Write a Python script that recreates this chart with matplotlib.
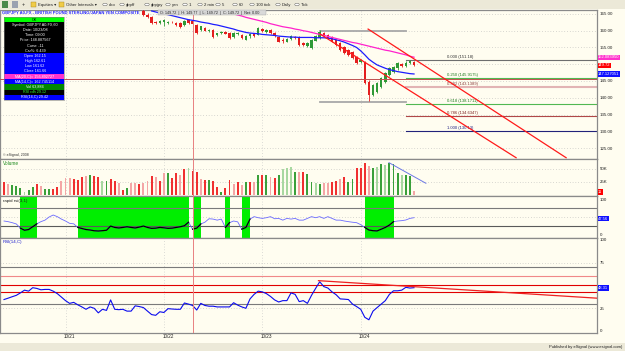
import matplotlib
matplotlib.use("Agg")
import matplotlib.pyplot as plt
from matplotlib.patches import Rectangle, Circle
import numpy as np

plt.rcParams['font.family'] = ['Liberation Sans', 'DejaVu Sans']

W, H = 625.0, 351.0
BG = '#fffdf0'
RED, GREEN = '#e41e1e', '#2e9a36'

# hourly GBPJPY bars, bar 0 = 10/20 09:00, bar 100 = 10/24 13:00
day_starts = [15, 39, 63, 87]
day_labels = ['10/21', '10/22', '10/23', '10/24']
cursor_bar, cursor_price = 46.1, 145.6

# candles before bar 34 sit above the visible price range
first_candle = 34
opens = [165.9, 164.8, 164.1, 162.5, 162.2, 162.5, 162.3, 162.7, 162.4, 162.3,
         161.8, 163.3, 162.8, 161.8, 160.3, 160.8, 159.8, 160.3, 158.8, 159.2,
         159.6, 159.3, 158.0, 159.0, 158.8, 157.3, 158.5, 158.9, 158.8, 160.6,
         159.6, 160.2, 159.2, 158.2, 157.3, 156.7, 157.4, 158.2, 158.2, 156.3,
         155.4, 154.9, 157.0, 157.8, 159.3, 158.6, 158.2, 157.1, 156.2, 155.2,
         154.3, 153.7, 152.3, 150.8, 150.8, 144.8, 140.8, 141.7, 143.3, 144.8,
         146.8, 147.8, 148.8, 150.1, 149.5, 150.4, 150.6]
highs = [166.4, 165.2, 164.4, 162.8, 163.2, 163.6, 163.0, 163.0, 162.7, 162.6,
         163.2, 163.6, 163.1, 162.1, 161.5, 161.1, 160.4, 160.6, 159.4, 159.9,
         159.9, 159.6, 159.7, 159.6, 159.1, 158.8, 159.3, 159.2, 161.2, 160.9,
         160.6, 160.4, 159.5, 158.5, 157.7, 157.9, 158.7, 158.5, 158.4, 156.6,
         156.5, 157.4, 158.6, 160.2, 159.7, 158.9, 158.5, 157.4, 156.5, 155.5,
         154.6, 153.9, 152.6, 151.6, 151.0, 145.2, 144.2, 144.6, 146.1, 147.6,
         149.2, 149.6, 150.6, 150.5, 150.9, 151.4, 151.0]
lows = [164.5, 163.8, 162.1, 161.9, 161.9, 161.3, 162.0, 162.2, 161.4, 160.8,
        161.5, 162.1, 161.8, 159.1, 160.0, 159.8, 159.5, 157.8, 158.5, 158.9,
        158.9, 157.6, 157.8, 158.7, 157.6, 157.1, 157.9, 158.2, 158.6, 159.6,
        159.3, 158.9, 158.0, 156.5, 156.4, 156.5, 157.2, 157.6, 155.5, 155.3,
        155.2, 154.7, 156.8, 157.6, 158.2, 157.4, 156.5, 155.5, 154.1, 153.1,
        152.6, 151.6, 150.1, 150.5, 144.1, 138.9, 140.4, 141.4, 143.0, 144.5,
        146.5, 147.4, 148.4, 149.2, 149.2, 150.2, 149.6]
closes = [164.8, 164.1, 162.4, 162.2, 163.0, 163.3, 162.7, 162.6, 161.6, 161.0,
          163.0, 162.3, 162.0, 159.3, 161.3, 160.0, 160.1, 158.0, 159.2, 159.6,
          159.1, 157.8, 159.4, 159.3, 157.8, 158.5, 159.0, 158.5, 160.8, 159.9,
          160.3, 159.2, 158.3, 156.7, 156.8, 157.6, 158.4, 157.9, 155.7, 155.6,
          156.3, 157.2, 158.3, 159.7, 158.5, 157.6, 156.7, 155.7, 154.3, 153.3,
          152.8, 151.8, 150.3, 151.3, 144.3, 140.8, 143.8, 144.3, 145.8, 147.3,
          148.8, 149.3, 150.3, 149.6, 150.5, 151.1, 149.72]

fast_ma_start = 36
fast_ma = [165.9, 165.6, 165.3, 165.0, 164.8, 164.5, 164.2, 163.9, 163.6, 163.3,
           163.1, 162.9, 162.6, 162.4, 162.2, 161.9, 161.7, 161.4, 161.1, 160.8,
           160.5, 160.1, 159.8, 159.5, 159.3, 159.2, 159.1, 158.9, 158.8, 158.7,
           158.6, 158.4, 158.3, 158.2, 158.1, 158.1, 158.0, 158.0, 158.0, 158.0,
           157.9, 157.9, 157.9, 157.8, 157.6, 157.3, 157.0, 156.6, 156.1, 155.6,
           155.0, 154.0, 152.8, 151.5, 150.6, 149.8, 149.3, 148.8, 148.4, 148.1,
           147.8, 147.6, 147.4, 147.2, 147.1]
slow_ma_start = 52
slow_ma = [166.4, 166.1, 165.7, 165.4, 165.0, 164.7, 164.4, 164.0, 163.7, 163.4,
           163.1, 162.8, 162.5, 162.1, 161.8, 161.5, 161.2, 161.0, 160.8, 160.5,
           160.3, 160.0, 159.8, 159.5, 159.2, 158.9, 158.6, 158.3, 158.0, 157.7,
           157.4, 157.1, 156.8, 156.5, 156.3, 156.0, 155.7, 155.4, 155.1, 154.8,
           154.5, 154.2, 154.0, 153.7, 153.4, 153.1, 152.8, 152.4, 152.1]

volume_k = [25.6, 20.6, 19.4, 17.5, 14.3, 6.8, 10.0, 16.2, 20.6, 17.5,
            11.2, 11.2, 11.2, 16.2, 27.5, 33.1, 33.1, 30.6, 28.8, 35.0,
            36.9, 38.2, 36.3, 35.0, 27.5, 26.9, 30.0, 27.5, 22.5, 10.0,
            13.1, 22.5, 22.5, 20.6, 22.5, 26.9, 36.3, 35.0, 26.9, 41.3,
            41.3, 33.1, 41.3, 38.2, 48.8, 50.7, 45.0, 44.4, 30.0, 28.8,
            28.8, 27.5, 16.2, 6.8, 13.1, 28.8, 20.6, 25.6, 19.4, 25.6,
            25.6, 25.6, 38.2, 38.2, 38.2, 35.0, 31.9, 38.2, 49.4, 51.9,
            53.8, 44.4, 44.4, 44.4, 40.0, 25.6, 22.5, 20.6, 22.5, 22.5,
            24.4, 27.5, 30.0, 35.0, 25.6, 30.0, 50.7, 50.7, 61.3, 55.1,
            50.7, 53.8, 58.2, 57.0, 60.1, 58.2, 41.3, 38.2, 38.2, 36.3,
            8.7]
# R red, P pink, G green, L light green
volume_colors = ("RPGGGLGGRP" "GGRRPPPRRR" "PGRRLGRRPR" "GPPRPPRPRP" "GRRPRLRRPR"
                 "GRRGRRPRPG" "RPGRGPRGLL" "LGPRGGLGPP" "RRPRGGRRRP" "GLGLGGGLGG" "P")
vol_palette = {'R': '#f03030', 'P': '#f4a6a6', 'G': '#3aa03a', 'L': '#a8d8a0'}

rapid_rsi = [38.5, 36.6, 33.7, 30.0, 18, 12, 14, 22,
             30.4, 36.6, 41.0, 50.0, 55.7, 51.0, 44.0, 38.5, 31.8, 30.4,
             20, 17, 14, 12.6, 10.5, 9.8, 10.7, 12, 24, 20, 18.5, 20, 22, 20,
             18.5, 21, 24, 20, 17.4, 18, 20, 19, 17.4, 18, 20, 22, 25,
             35, 15, 18, 30, 35, 45, 44, 41, 44, 20, 33.7, 38.5, 36, 15, 20,
             44, 51, 48, 46, 48, 51, 45, 46, 41, 46, 44, 46, 41, 41, 46, 51,
             48, 51, 46, 51, 46, 41, 41, 38.5, 36.6, 35, 33.7, 28,
             20, 12.6, 10.7, 10, 15, 20, 27, 36.6, 38.5, 39.5, 41.4, 46, 48]
green_zones = [(4, 7), (18, 44), (46, 47), (54, 54), (58, 59), (88, 94)]

rsi = [34.5, 36.0, 37.6, 39.1, 41.8, 44.8, 43.7, 47.5, 46.7, 45.2,
       45.6, 45.6, 43.7, 41.0, 37.2, 33.3, 30.3, 31.4, 28.7, 26.4,
       23.8, 26.4, 24.9, 19.9, 23.8, 22.6, 34.1, 23.8, 23.4, 23.8,
       21.8, 21.8, 27.6, 26.8, 25.7, 21.8, 18.0, 17.2, 21.1, 20.3,
       24.5, 24.1, 23.8, 23.8, 30.7, 29.5, 28.0, 23.0, 30.3, 28.0,
       27.2, 27.2, 26.4, 26.4, 26.4, 26.4, 31.0, 28.4, 26.4, 24.9,
       35.2, 40.2, 43.7, 42.9, 41.0, 37.9, 34.1, 31.8, 33.3, 33.3,
       41.8, 40.2, 32.2, 33.3, 30.3, 39.1, 46.7, 54.0, 48.7, 47.1,
       42.9, 39.8, 35.2, 34.9, 34.5, 29.5, 26.8, 23.8, 15.0, 12.3,
       21.8, 25.7, 29.5, 33.3, 40.2, 44.1, 44.1, 44.8, 47.9, 47.1,
       47.5]

fib_top, fib_bottom = 151.18, 130.13
fib_ratios = [0.0, 0.25, 0.382, 0.618, 0.786, 1.0]
fib_line_colors = ['#6e6e6e', '#52b852', '#e2b4b4', '#52b852', '#b04848', '#22227a']
fib_text_colors = ['#303030', '#1d7a1d', '#8a3c3c', '#1d7a1d', '#7a1e1e', '#1c1c80']
fib_start, fib_label_bar = 98.05, 108.0
fib_anchor_bars = [77.1, 98.05]
fib_anchor_prices = [160.0, 138.8]

channel_upper = ([88.8, 137.1], [160.5, 122.1])
channel_lower = ([77.1, 124.9], [159.0, 122.1])
vol_trend = ([93.9, 102.9], [61.3, 22.6])
rsi_trend = ([76.7, 144.6], [55.2, 36.0])

# price ticks; 150.00 is hidden behind the last-price box in the original
price_ticks = [125, 130, 135, 140, 145, 155, 160, 165]
rsi_ticks = [0, 25, 75, 100]

X0, X1 = -0.976, 144.63

fig = plt.figure(figsize=(6.25, 3.51), dpi=100, facecolor=BG)


def fig_rect(x0, y0, x1, y1, fc, ec='none', lw=0.0, z=5):
    fig.patches.append(Rectangle((x0 / W, 1 - y1 / H), (x1 - x0) / W, (y1 - y0) / H,
                                 transform=fig.transFigure, fc=fc, ec=ec, lw=lw, zorder=z))


def fig_text(x, y, s, **kw):
    kw.setdefault('fontsize', 3)
    kw.setdefault('va', 'center')
    z = kw.pop('zorder', 6)
    fig.text(x / W, 1 - y / H, s, zorder=z, **kw)


def panel(y0, y1, ylim):
    ax = fig.add_axes([0, 1 - y1 / H, 597 / W, (y1 - y0) / H])
    ax.set_facecolor(BG)
    ax.set_xlim(X0, X1)
    ax.set_ylim(*ylim)
    ax.set_xticks([])
    ax.yaxis.tick_right()
    ax.tick_params(axis='y', length=0, labelsize=3.2, pad=2, colors='#202020')
    for s in ax.spines.values():
        s.set_color('#8a8a8a')
        s.set_linewidth(0.9)
    for d in day_starts:
        ax.axvline(d, color='#bdbdbd', lw=0.5, ls=(0, (1, 3)), zorder=0)
    ax.axvline(cursor_bar, color='#e88080', lw=0.7, zorder=4)
    return ax


def value_box(ax, y, s, color):
    ax.text(1.002, y, s, transform=ax.get_yaxis_transform(), fontsize=3, color='white',
            va='center', ha='left', clip_on=False, zorder=8,
            bbox=dict(boxstyle='square,pad=0.15', fc=color, ec='none'))


def dotted(ax, y):
    ax.axhline(y, color='#b4b4b4', lw=0.5, ls=(0, (1, 3)), zorder=0)


# ---------------- price panel ----------------
ax = panel(9.5, 159, (121.72, 166.34))
ax.set_yticks(price_ticks)
ax.set_yticklabels(['%.2f' % v for v in price_ticks])
for v in np.arange(125, 166, 5):
    dotted(ax, v)

bars = np.arange(first_candle, first_candle + len(opens))
o, hi, lo, c = map(np.array, (opens, highs, lows, closes))
col = np.where(c >= o, GREEN, RED)
ax.vlines(bars, lo, hi, colors=col, lw=0.6, zorder=3)
ax.bar(bars, np.maximum(np.abs(c - o), 0.15), bottom=np.minimum(o, c), width=0.62,
       color=col, linewidth=0, zorder=3)

ax.plot(np.arange(fast_ma_start, fast_ma_start + len(fast_ma)), fast_ma,
        color='#1c1cff', lw=0.9, zorder=4)
ax.plot(np.arange(slow_ma_start, slow_ma_start + len(slow_ma)), slow_ma,
        color='#ff22cc', lw=0.9, zorder=4)

ax.axhline(cursor_price, color='#c05050', lw=0.7, zorder=4)

for y in fib_anchor_prices:
    ax.plot(fib_anchor_bars, [y, y], color='#a8a8a8', lw=1.3, zorder=2)
for r, lc, tc in zip(fib_ratios, fib_line_colors, fib_text_colors):
    level = fib_top - r * (fib_top - fib_bottom)
    lw = 1.5 if r == 0.382 else 0.8
    ax.plot([fib_start, X1], [level, level], color=lc, lw=lw, zorder=2)
    lab = ('%.4f' % level).rstrip('0').rstrip('.')
    ax.text(fib_label_bar, level + 0.25, '%.3f (%s)' % (r, lab), fontsize=3,
            color=tc, va='bottom', ha='left', zorder=3)

for xs, ys in (channel_upper, channel_lower):
    ax.plot(xs, ys, color='#ff1a1a', lw=0.9, zorder=5)

value_box(ax, slow_ma[-1], '152.083950', '#ff33cc')
value_box(ax, closes[-1], '149.72', '#ff0000')
value_box(ax, fast_ma[-1], '147.127051', '#1010ff')

# ---------------- volume panel ----------------
axv = panel(159, 196, (-1.3, 68.2))
axv.set_yticks([25, 50])
axv.set_yticklabels(['25K', '50K'])
dotted(axv, 25)
dotted(axv, 50)
vx = np.arange(len(volume_k))
axv.bar(vx, volume_k, width=0.45, color=[vol_palette[k] for k in volume_colors],
        linewidth=0, zorder=2)
axv.plot(*vol_trend, color='#6c78e6', lw=0.7, zorder=3)
value_box(axv, 6.2, '11', '#ff0000')

# ---------------- rapid rsi panel ----------------
axr = panel(196, 238, (-10.3, 110.3))
axr.set_yticks([0, 100])
axr.set_yticklabels(['0', '100'])
for s, e in green_zones:
    axr.axvspan(s, e + 1, color='#00ee00', lw=0, zorder=1)
axr.axhline(75, color='#7a7a7a', lw=0.8, zorder=2)
axr.axhline(25, color='#5a5a5a', lw=0.8, zorder=2)
dotted(axr, 50)
rx = np.arange(len(rapid_rsi))
axr.plot(rx, rapid_rsi, color='#6a6aff', lw=0.6, zorder=3)
for s, e in green_zones:
    seg = slice(s, min(e + 2, len(rapid_rsi)))
    axr.plot(rx[seg], rapid_rsi[seg], color='black', lw=0.9, zorder=3)
value_box(axr, 45, '47.56', '#1010ff')

# ---------------- rsi panel ----------------
axs = panel(238, 333, (-2.2, 102))
axs.set_yticks(rsi_ticks)
axs.set_yticklabels([str(v) for v in rsi_ticks])
dotted(axs, 75)
dotted(axs, 25)
axs.axhline(70, color='#7a7a7a', lw=0.8, zorder=2)
axs.axhline(30, color='#7a7a7a', lw=0.8, zorder=2)
axs.axhline(60, color='#f08888', lw=0.8, zorder=2)
axs.axhline(50, color='#e00000', lw=0.8, zorder=2)
axs.axhline(42.5, color='#e00000', lw=0.8, zorder=2)
axs.plot(np.arange(len(rsi)), rsi, color='#0a0aee', lw=0.8, zorder=3)
axs.plot(*rsi_trend, color='#ee2020', lw=0.9, zorder=3)
value_box(axs, 47.1, '48.31', '#1010ff')

# ---------------- labels, header, footer ----------------
for d, lab in zip(day_starts, day_labels):
    px = 4 + 4.1 * (d + 1)
    fig_text(px, 336.5, lab, ha='center', fontsize=3.3, color='#202020')

fig_text(3, 163.5, 'Volume', color='#1f8a1f', fontsize=3.4)
fig_text(3, 200.5, 'rapid rsi(3,1)', color='#202020', fontsize=3.2)
fig_text(3, 242.5, 'RSI(14,C)', color='#1a1acc', fontsize=3.2)
fig_text(3, 155, '\u00a9 eSignal, 2008', color='#303030', fontsize=2.6)

# toolbar
fig_rect(0, 0, 625, 9, '#ece9d8', z=1)
fig_rect(0, 8.6, 625, 9.2, '#b8b4a4', z=1)
fig_rect(2, 1.5, 8, 7.5, '#4c8a4c', z=2)
fig_rect(12, 1.5, 18, 7.5, '#9aa2b0', z=2)
fig_text(23, 4.5, '+', fontsize=4, ha='center', color='#202020')
for fx_, lab in ((31, 'Equities \u25be'), (59, 'Other Intervals \u25be')):
    fig_rect(fx_, 2, fx_ + 5, 7, '#f0cc48', ec='#a08020', lw=0.3, z=2)
    fig_text(fx_ + 7, 4.6, lab, fontsize=3.1, color='#202020')
for cx, lab in ((105, 'cbo'), (122, 'gbpff'), (147, 'gbpjpy'), (168, 'yen'), (185, '1'),
                (200, '2 min'), (218, '5'), (235, '60'), (252, '100 tick'),
                (278, 'Daily'), (297, 'Tick')):
    fig.patches.append(Circle((cx / W, 1 - 4.5 / H), 2.2 / W, transform=fig.transFigure,
                              fc='white', ec='#404040', lw=0.3, zorder=2))
    fig_text(cx + 4, 4.6, lab, fontsize=3.1, color='#202020')

# title bar
fig_text(2, 12.5, 'GBPJPY A0-FX - BRITISH POUND STERLING/JAPAN YEN COMPOSITE',
         color='#2424ff', fontsize=3.0, weight='bold')
fig_rect(158, 9.8, 266, 15.4, '#d9d9d9', ec='#a0a0a0', lw=0.3)
fig_text(160, 12.6, 'O: 149.72  |  H: 149.77  |  L: 149.72  |  C: 149.72  |  Net: 0.00',
         fontsize=2.7, color='#202020')

# data window
rows = [('OK', '#00ff00', 'black'),
        ('Symbol: GBPJPY A0-FX,60', 'black', 'white'),
        ('Date: 10/23/08', 'black', 'white'),
        ('Time: 09:00', 'black', 'white'),
        ('Price: 148.887567', 'black', 'white'),
        ('Cursr: -11', 'black', 'white'),
        ('Csr%: 6.439', 'black', 'white'),
        ('Open 162.15', '#0000ff', 'white'),
        ('High 162.61', '#0000ff', 'white'),
        ('Low 161.62', '#0000ff', 'white'),
        ('Close 161.66', '#0000ff', 'white'),
        ('MA(20,C)= 156.892727', '#ff33cc', 'white'),
        ('MA(14,C)= 162.745114', '#0000ff', 'white'),
        ('Vol 63,884', '#008800', 'white'),
        ('RSI rdh 29.12', 'black', '#33ff33'),
        ('RSI(14,C) 29.42', '#0000ff', 'white')]
row_h = (100 - 17) / len(rows)
for i, (txt, bg, fg) in enumerate(rows):
    y0 = 17 + i * row_h
    fig_rect(4, y0, 64, y0 + row_h, bg)
    fig_text(35, y0 + row_h / 2, txt, ha='center', fontsize=2.7, color=fg, zorder=7)
fig_rect(4, 17, 64, 100, 'none', ec='#808080', lw=0.4, z=7)

# footer
fig_rect(0, 343, 625, 351, '#ece9d8', z=1)
fig_rect(0, 342.8, 625, 343.4, '#a8a8a8', z=1)
fig_text(622, 347, 'Published by eSignal (www.esignal.com)', ha='right', fontsize=3.0,
         color='#202020')

fig.savefig('out.png', dpi=100, facecolor=BG)
